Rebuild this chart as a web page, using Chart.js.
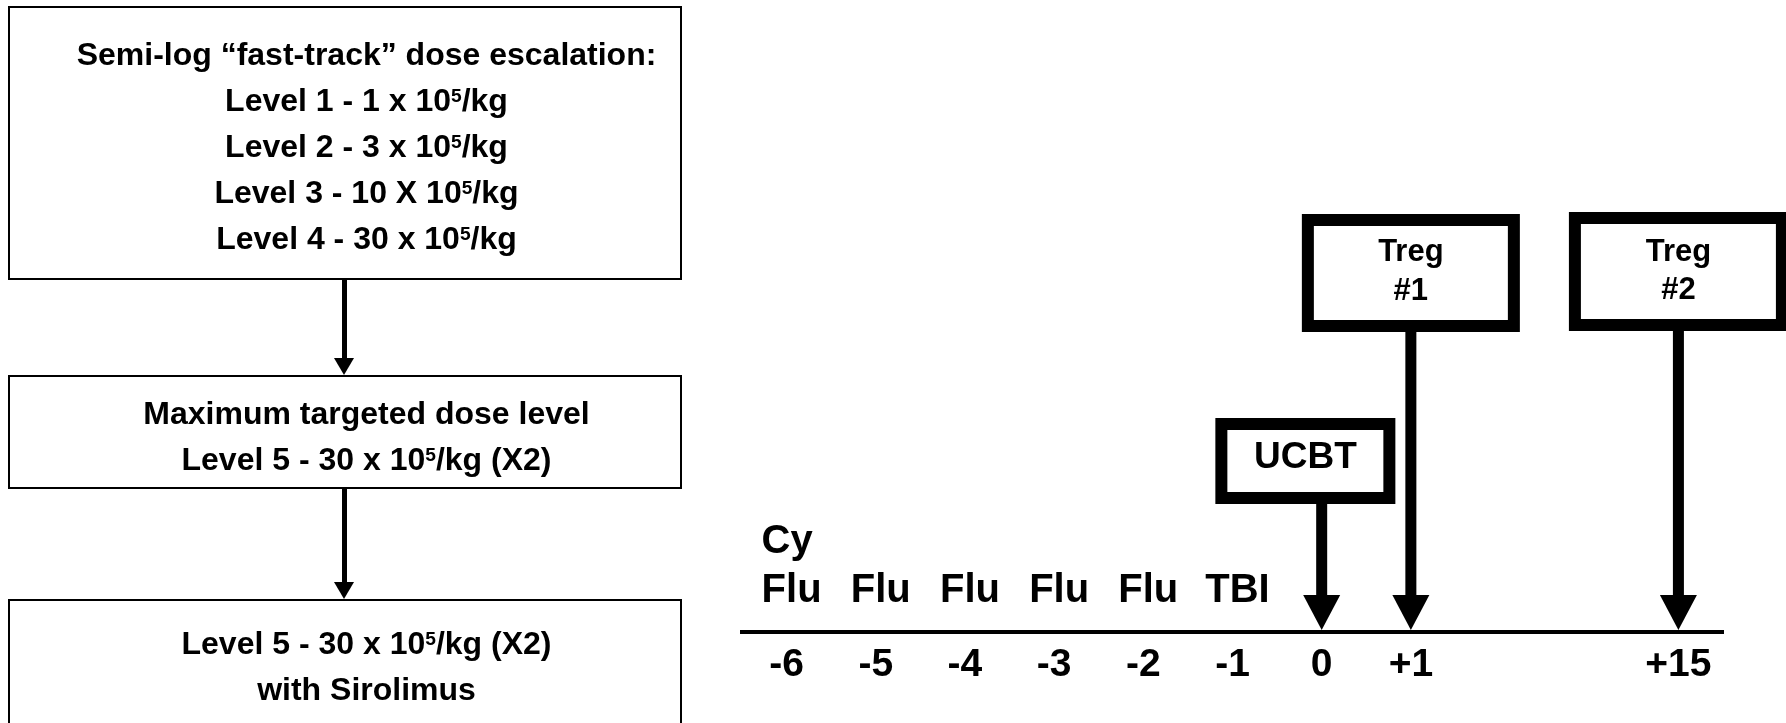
<!DOCTYPE html>
<html>
<head>
<meta charset="utf-8">
<script src="https://cdn.jsdelivr.net/npm/chart.js@4.4.0/dist/chart.umd.min.js"></script>
<style>
  html, body { margin: 0; padding: 0; background: #fff; overflow: hidden; }
  #wrap { position: relative; width: 1786px; height: 723px; overflow: hidden; }
  #timeline { position: absolute; left: 0; top: 0; }
  .box { position: absolute; box-sizing: border-box; border: 2px solid #000; background: #fff; }
  .txt { position: absolute; left: 0; width: 733px; text-align: center;
         font: 700 32px "Liberation Sans", Arial, sans-serif; line-height: 46px; color: #000; }
  .txt sup { font-size: 0.6em; line-height: 0; vertical-align: 0.45em; }
  .shaft { position: absolute; width: 5px; background: #000; }
  .head { position: absolute; width: 0; height: 0; border-left: 10px solid transparent;
          border-right: 10px solid transparent; border-top: 17px solid #000; }
</style>
</head>
<body>
<div id="wrap">
  <canvas id="timeline" width="1786" height="723"></canvas>

  <!-- dose escalation flow -->
  <div class="box" style="left:8px;top:6px;width:674px;height:274px"></div>
  <div class="txt" style="top:31px">Semi-log “fast-track” dose escalation:<br>Level 1 - 1 x 10<sup>5</sup>/kg<br>Level 2 - 3 x 10<sup>5</sup>/kg<br>Level 3 - 10 X 10<sup>5</sup>/kg<br>Level 4 - 30 x 10<sup>5</sup>/kg</div>
  <div class="shaft" style="left:342px;top:280px;height:80px"></div>
  <div class="head" style="left:334px;top:358px"></div>

  <div class="box" style="left:8px;top:375px;width:674px;height:114px"></div>
  <div class="txt" style="top:390px">Maximum targeted dose level<br>Level 5 - 30 x 10<sup>5</sup>/kg (X2)</div>
  <div class="shaft" style="left:342px;top:489px;height:95px"></div>
  <div class="head" style="left:334px;top:582px"></div>

  <div class="box" style="left:8px;top:599px;width:674px;height:200px"></div>
  <div class="txt" style="top:620px">Level 5 - 30 x 10<sup>5</sup>/kg (X2)<br>with Sirolimus</div>
</div>

<script>
// timeline days (blank slots stand for the skipped days before +15)
const dayLabels = ["-6", "-5", "-4", "-3", "-2", "-1", "0", "+1", "", "", "+15"];

// conditioning given on each day, listed top to bottom
const regimenDays = ["-6", "-5", "-4", "-3", "-2", "-1"];
const regimenAgents = [["Cy", "Flu"], ["Flu"], ["Flu"], ["Flu"], ["Flu"], ["TBI"]];

// infusions
const eventDays = ["0", "+1", "+15"];
const eventLabels = [["UCBT"], ["Treg", "#1"], ["Treg", "#2"]];

const FONT = '"Liberation Sans", Arial, sans-serif';
Chart.defaults.font.family = FONT;
Chart.defaults.color = "#000";

// box look per event (outer top, outer width/height, font size, line centres)
const boxStyle = [
  { top: 418, w: 180, h: 86, size: 37, lines: [458] },
  { top: 214, w: 218, h: 118, size: 31, lines: [252, 291] },
  { top: 212, w: 219, h: 119, size: 31, lines: [252, 290] },
];

const timelinePlugin = {
  id: "timeline",
  afterDraw(chart) {
    const ctx = chart.ctx;
    const x = chart.scales.x;
    const axisY = chart.chartArea.bottom;
    const px = (d) => x.getPixelForValue(dayLabels.indexOf(d));
    const shaftW = 11;

    ctx.save();
    ctx.fillStyle = "#000";
    ctx.strokeStyle = "#000";
    ctx.textBaseline = "middle";

    // regimen labels above the line
    ctx.font = "bold 40px " + FONT;
    regimenDays.forEach((d, i) => {
      const cx = px(d) + 5;
      const agents = regimenAgents[i];
      const base = agents[agents.length - 1];
      const left = cx - ctx.measureText(base).width / 2;
      agents.forEach((a, j) => {
        const y = 591 - (agents.length - 1 - j) * 49;
        if (j === agents.length - 1) {
          ctx.textAlign = "center";
          ctx.fillText(a, cx, y);
        } else {
          ctx.textAlign = "left";
          ctx.fillText(a, left, y);
        }
      });
    });

    // infusion boxes and arrows
    const xs = eventDays.map(px);
    eventDays.forEach((d, i) => {
      const cx = xs[i];
      const s = boxStyle[i];
      const bw = 12;
      // keep a box clear of the next arrow
      let bx = cx;
      if (i < xs.length - 1) bx = Math.min(cx, xs[i + 1] - shaftW / 2 - 10 - s.w / 2);

      ctx.fillStyle = "#fff";
      ctx.fillRect(bx - s.w / 2, s.top, s.w, s.h);
      ctx.lineWidth = bw;
      ctx.strokeRect(bx - s.w / 2 + bw / 2, s.top + bw / 2, s.w - bw, s.h - bw);

      ctx.fillStyle = "#000";
      ctx.textAlign = "center";
      ctx.font = "bold " + s.size + "px " + FONT;
      eventLabels[i].forEach((t, j) => ctx.fillText(t, bx, s.lines[j]));

      const headTop = axisY - 37;
      ctx.fillRect(cx - shaftW / 2, s.top + s.h, shaftW, headTop - (s.top + s.h) + 1);
      ctx.beginPath();
      ctx.moveTo(cx - 18.5, headTop);
      ctx.lineTo(cx + 18.5, headTop);
      ctx.lineTo(cx, axisY - 2);
      ctx.closePath();
      ctx.fill();
    });
    ctx.restore();
  },
};

new Chart(document.getElementById("timeline"), {
  type: "line",
  data: { labels: dayLabels, datasets: [] },
  options: {
    responsive: false,
    animation: false,
    events: [],
    layout: { padding: { left: 742, right: 63, top: 0, bottom: 0 } },
    plugins: { legend: { display: false }, tooltip: { enabled: false } },
    scales: {
      x: {
        type: "category",
        offset: true,
        grid: { display: false, drawTicks: false },
        border: { display: true, width: 4, color: "#000" },
        ticks: {
          autoSkip: false,
          maxRotation: 0,
          padding: 14,
          color: "#000",
          font: { size: 39, weight: "bold", lineHeight: 1 },
        },
        afterFit: (axis) => { axis.height = 91; },
      },
      y: { display: false },
    },
  },
  plugins: [timelinePlugin],
});
</script>
</body>
</html>
